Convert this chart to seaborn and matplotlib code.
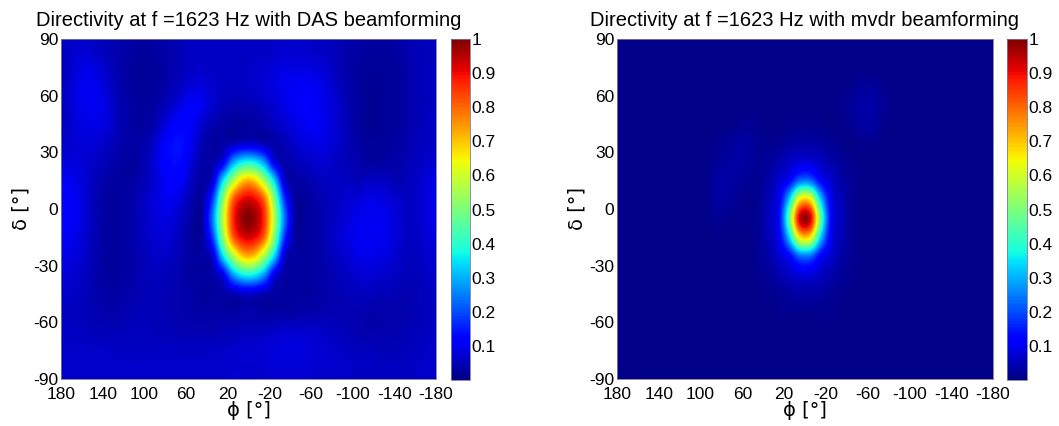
import numpy as np
import matplotlib
matplotlib.use("Agg")
import matplotlib.pyplot as plt
import seaborn as sns
from matplotlib.ticker import FuncFormatter

# ---------------- data (cell centres of the sampled directivity grid) ----------------
phi_centres = [175, 165, 155, 145, 135, 125, 115, 105, 95, 85, 75, 65, 55, 45, 35, 25, 15, 5,
               -5, -15, -25, -35, -45, -55, -65, -75, -85, -95, -105, -115, -125, -135, -145, -155, -165, -175]
delta_centres = [85, 75, 65, 55, 45, 35, 25, 15, 5, -5, -15, -25, -35, -45, -55, -65, -75, -85]

x_ticks = [180, 140, 100, 60, 20, -20, -60, -100, -140, -180]
y_ticks = [90, 60, 30, 0, -30, -60, -90]
cbar_ticks = [0.1, 0.2, 0.3, 0.4, 0.5, 0.6, 0.7, 0.8, 0.9, 1.0]

titles = ["Directivity at f =1623 Hz with DAS beamforming",
          "Directivity at f =1623 Hz with mvdr beamforming"]

# DAS beamforming, one row per delta centre (phi 175 ... -175)
das_d85 = [0.06, 0.07, 0.07, 0.06, 0.05, 0.04, 0.035, 0.03, 0.03, 0.035, 0.04, 0.05,
           0.06, 0.06, 0.06, 0.06, 0.06, 0.06, 0.06, 0.06, 0.065, 0.07, 0.07, 0.07,
           0.06, 0.06, 0.05, 0.04, 0.035, 0.03, 0.03, 0.03, 0.035, 0.045, 0.05, 0.055]
das_d75 = [0.06, 0.08, 0.09, 0.08, 0.06, 0.04, 0.03, 0.025, 0.025, 0.03, 0.04, 0.05,
           0.06, 0.065, 0.06, 0.06, 0.06, 0.06, 0.065, 0.07, 0.08, 0.085, 0.085, 0.085,
           0.08, 0.07, 0.05, 0.04, 0.03, 0.025, 0.025, 0.025, 0.03, 0.04, 0.05, 0.055]
das_d65 = [0.06, 0.09, 0.10, 0.095, 0.07, 0.045, 0.03, 0.025, 0.025, 0.03, 0.045, 0.06,
           0.08, 0.08, 0.07, 0.06, 0.06, 0.06, 0.065, 0.075, 0.085, 0.10, 0.105, 0.105,
           0.10, 0.085, 0.06, 0.04, 0.03, 0.02, 0.02, 0.025, 0.03, 0.04, 0.05, 0.055]
das_d55 = [0.06, 0.09, 0.10, 0.10, 0.08, 0.05, 0.035, 0.03, 0.03, 0.04, 0.06, 0.09,
           0.11, 0.10, 0.07, 0.05, 0.045, 0.045, 0.05, 0.06, 0.075, 0.09, 0.105, 0.11,
           0.105, 0.09, 0.07, 0.045, 0.03, 0.02, 0.02, 0.025, 0.03, 0.04, 0.05, 0.055]
das_d45 = [0.06, 0.08, 0.09, 0.09, 0.08, 0.05, 0.035, 0.03, 0.035, 0.06, 0.10, 0.12,
           0.11, 0.07, 0.045, 0.035, 0.03, 0.03, 0.035, 0.04, 0.06, 0.075, 0.09, 0.105,
           0.105, 0.09, 0.07, 0.05, 0.03, 0.02, 0.02, 0.025, 0.03, 0.04, 0.05, 0.06]
das_d35 = [0.065, 0.075, 0.08, 0.075, 0.06, 0.045, 0.035, 0.035, 0.05, 0.09, 0.13, 0.14,
           0.10, 0.05, 0.03, 0.035, 0.045, 0.065, 0.065, 0.045, 0.035, 0.05, 0.07, 0.085,
           0.09, 0.085, 0.07, 0.05, 0.035, 0.025, 0.025, 0.03, 0.035, 0.045, 0.055, 0.06]
das_d25 = [0.08, 0.08, 0.07, 0.06, 0.045, 0.035, 0.03, 0.035, 0.06, 0.10, 0.13, 0.13,
           0.08, 0.04, 0.04, 0.09, 0.27, 0.36, 0.36, 0.27, 0.09, 0.04, 0.05, 0.06,
           0.07, 0.07, 0.06, 0.05, 0.04, 0.03, 0.03, 0.035, 0.04, 0.05, 0.06, 0.07]
das_d15 = [0.10, 0.09, 0.07, 0.05, 0.035, 0.03, 0.03, 0.04, 0.06, 0.09, 0.12, 0.11,
           0.06, 0.035, 0.065, 0.33, 0.55, 0.70, 0.70, 0.55, 0.33, 0.065, 0.035, 0.04,
           0.05, 0.06, 0.06, 0.06, 0.05, 0.06, 0.06, 0.055, 0.045, 0.055, 0.07, 0.085]
das_d5 = [0.11, 0.10, 0.07, 0.045, 0.03, 0.03, 0.035, 0.05, 0.07, 0.09, 0.10, 0.08,
          0.045, 0.03, 0.17, 0.50, 0.80, 0.91, 0.91, 0.80, 0.50, 0.17, 0.03, 0.03,
          0.04, 0.05, 0.06, 0.07, 0.08, 0.09, 0.09, 0.08, 0.065, 0.06, 0.07, 0.09]
das_dm5 = [0.11, 0.10, 0.07, 0.045, 0.03, 0.03, 0.035, 0.05, 0.07, 0.085, 0.085, 0.06,
           0.035, 0.03, 0.23, 0.557, 0.86, 0.98, 0.98, 0.86, 0.557, 0.23, 0.03, 0.03,
           0.035, 0.05, 0.065, 0.08, 0.095, 0.10, 0.10, 0.09, 0.07, 0.06, 0.07, 0.09]
das_dm15 = [0.10, 0.09, 0.065, 0.04, 0.03, 0.03, 0.035, 0.05, 0.065, 0.075, 0.07, 0.05,
            0.03, 0.03, 0.17, 0.50, 0.80, 0.91, 0.91, 0.80, 0.50, 0.17, 0.03, 0.03,
            0.035, 0.05, 0.07, 0.085, 0.10, 0.105, 0.10, 0.09, 0.07, 0.06, 0.065, 0.08]
das_dm25 = [0.09, 0.08, 0.06, 0.04, 0.03, 0.03, 0.035, 0.045, 0.06, 0.065, 0.06, 0.045,
            0.03, 0.035, 0.065, 0.33, 0.55, 0.70, 0.70, 0.55, 0.33, 0.065, 0.035, 0.03,
            0.035, 0.045, 0.06, 0.075, 0.09, 0.095, 0.09, 0.08, 0.065, 0.055, 0.06, 0.07]
das_dm35 = [0.075, 0.07, 0.055, 0.04, 0.03, 0.03, 0.035, 0.045, 0.055, 0.055, 0.05, 0.04,
            0.03, 0.03, 0.035, 0.09, 0.27, 0.36, 0.36, 0.27, 0.09, 0.035, 0.03, 0.03,
            0.035, 0.04, 0.05, 0.06, 0.07, 0.075, 0.07, 0.065, 0.055, 0.05, 0.055, 0.065]
das_dm45 = [0.065, 0.06, 0.05, 0.04, 0.035, 0.035, 0.04, 0.045, 0.05, 0.05, 0.045, 0.04,
            0.035, 0.03, 0.03, 0.035, 0.045, 0.065, 0.065, 0.045, 0.035, 0.03, 0.03, 0.03,
            0.035, 0.04, 0.045, 0.05, 0.055, 0.055, 0.05, 0.05, 0.045, 0.045, 0.05, 0.06]
das_dm55 = [0.06, 0.055, 0.05, 0.045, 0.04, 0.04, 0.045, 0.05, 0.05, 0.05, 0.045, 0.04,
            0.035, 0.035, 0.035, 0.035, 0.035, 0.04, 0.04, 0.035, 0.035, 0.035, 0.035, 0.04,
            0.04, 0.045, 0.045, 0.045, 0.045, 0.04, 0.04, 0.04, 0.04, 0.045, 0.05, 0.055]
das_dm65 = [0.06, 0.06, 0.055, 0.05, 0.05, 0.05, 0.055, 0.055, 0.055, 0.05, 0.05, 0.045,
            0.045, 0.045, 0.045, 0.05, 0.05, 0.055, 0.055, 0.06, 0.065, 0.07, 0.07, 0.07,
            0.065, 0.06, 0.055, 0.05, 0.045, 0.04, 0.04, 0.045, 0.045, 0.05, 0.055, 0.06]
das_dm75 = [0.065, 0.065, 0.065, 0.065, 0.065, 0.06, 0.06, 0.06, 0.06, 0.06, 0.06, 0.06,
            0.06, 0.06, 0.06, 0.065, 0.065, 0.07, 0.07, 0.075, 0.08, 0.085, 0.085, 0.08,
            0.075, 0.07, 0.065, 0.06, 0.055, 0.055, 0.05, 0.05, 0.05, 0.055, 0.06, 0.065]
das_dm85 = [0.065, 0.065, 0.065, 0.065, 0.065, 0.065, 0.065, 0.065, 0.065, 0.065, 0.065, 0.065,
            0.065, 0.065, 0.065, 0.065, 0.07, 0.07, 0.07, 0.07, 0.075, 0.075, 0.075, 0.075,
            0.07, 0.07, 0.065, 0.065, 0.06, 0.06, 0.06, 0.06, 0.06, 0.06, 0.065, 0.065]

# MVDR beamforming: flat floor plus the region around the main lobe
mvdr_floor = 0.01
mvdr_patch_phi = [85, 75, 65, 55, 45, 35, 25, 15, 5, -5, -15, -25, -35, -45, -55, -65, -75, -85]
mvdr_patch_delta = [65, 55, 45, 35, 25, 15, 5, -5, -15, -25, -35, -45, -55]
mvdr_d65 = [0.01, 0.01, 0.01, 0.01, 0.01, 0.01, 0.01, 0.01, 0.01, 0.01, 0.01, 0.01, 0.01, 0.015, 0.025, 0.025, 0.015, 0.01]
mvdr_d55 = [0.01, 0.01, 0.01, 0.01, 0.01, 0.01, 0.01, 0.01, 0.01, 0.01, 0.01, 0.01, 0.015, 0.025, 0.035, 0.035, 0.02, 0.01]
mvdr_d45 = [0.01, 0.01, 0.015, 0.02, 0.015, 0.01, 0.01, 0.015, 0.015, 0.015, 0.015, 0.01, 0.01, 0.02, 0.03, 0.03, 0.015, 0.01]
mvdr_d35 = [0.015, 0.02, 0.03, 0.03, 0.02, 0.015, 0.02, 0.03, 0.035, 0.035, 0.03, 0.02, 0.015, 0.01, 0.015, 0.015, 0.01, 0.01]
mvdr_d25 = [0.02, 0.03, 0.035, 0.03, 0.02, 0.025, 0.04, 0.06, 0.08, 0.08, 0.06, 0.04, 0.025, 0.015, 0.01, 0.01, 0.01, 0.01]
mvdr_d15 = [0.03, 0.035, 0.03, 0.02, 0.02, 0.035, 0.07, 0.12, 0.23, 0.23, 0.12, 0.07, 0.035, 0.02, 0.01, 0.01, 0.01, 0.01]
mvdr_d5 = [0.03, 0.03, 0.02, 0.015, 0.02, 0.05, 0.10, 0.33, 0.66, 0.66, 0.33, 0.10, 0.05, 0.02, 0.01, 0.01, 0.01, 0.01]
mvdr_dm5 = [0.02, 0.015, 0.015, 0.015, 0.02, 0.055, 0.12, 0.47, 0.93, 0.93, 0.47, 0.12, 0.055, 0.02, 0.01, 0.01, 0.01, 0.01]
mvdr_dm15 = [0.01, 0.01, 0.01, 0.01, 0.02, 0.05, 0.10, 0.33, 0.66, 0.66, 0.33, 0.10, 0.05, 0.02, 0.01, 0.01, 0.01, 0.01]
mvdr_dm25 = [0.01, 0.01, 0.01, 0.01, 0.02, 0.035, 0.07, 0.12, 0.23, 0.23, 0.12, 0.07, 0.035, 0.02, 0.01, 0.01, 0.01, 0.01]
mvdr_dm35 = [0.01, 0.01, 0.01, 0.01, 0.015, 0.025, 0.04, 0.06, 0.08, 0.08, 0.06, 0.04, 0.025, 0.015, 0.01, 0.01, 0.01, 0.01]
mvdr_dm45 = [0.01, 0.01, 0.01, 0.01, 0.01, 0.015, 0.02, 0.03, 0.035, 0.035, 0.03, 0.02, 0.015, 0.01, 0.01, 0.01, 0.01, 0.01]
mvdr_dm55 = [0.01, 0.01, 0.01, 0.01, 0.01, 0.01, 0.015, 0.015, 0.015, 0.015, 0.015, 0.015, 0.01, 0.01, 0.01, 0.01, 0.01, 0.01]

# ---------------- assemble the grids ----------------
das = np.array([das_d85, das_d75, das_d65, das_d55, das_d45, das_d35, das_d25, das_d15, das_d5,
                das_dm5, das_dm15, das_dm25, das_dm35, das_dm45, das_dm55, das_dm65, das_dm75, das_dm85])
mvdr_patch = np.array([mvdr_d65, mvdr_d55, mvdr_d45, mvdr_d35, mvdr_d25, mvdr_d15, mvdr_d5,
                       mvdr_dm5, mvdr_dm15, mvdr_dm25, mvdr_dm35, mvdr_dm45, mvdr_dm55])
mvdr = np.full((len(delta_centres), len(phi_centres)), mvdr_floor)
r0 = delta_centres.index(mvdr_patch_delta[0])
c0 = phi_centres.index(mvdr_patch_phi[0])
mvdr[r0:r0 + mvdr_patch.shape[0], c0:c0 + mvdr_patch.shape[1]] = mvdr_patch

dphi = abs(phi_centres[1] - phi_centres[0])
ddel = abs(delta_centres[1] - delta_centres[0])
extent = [phi_centres[0] + dphi / 2, phi_centres[-1] - dphi / 2,
          delta_centres[-1] - ddel / 2, delta_centres[0] + ddel / 2]

# ---------------- style ----------------
sns.set_style("white")
plt.rcParams["font.family"] = ["Liberation Sans", "DejaVu Sans"]
plt.rcParams["axes.unicode_minus"] = False
plt.rcParams["text.color"] = "black"
plt.rcParams["axes.labelcolor"] = "black"
plt.rcParams["xtick.color"] = "black"
plt.rcParams["ytick.color"] = "black"

W, H = 1059, 426
fig = plt.figure(figsize=(W / 100, H / 100), dpi=100)

axes_px = [(61, 39, 375, 340), (617, 39, 376, 340)]
cbar_px = [(451, 39, 19, 341), (1007, 39, 20, 341)]
cmap = plt.get_cmap("jet")

for k, (grid, title) in enumerate(zip([das, mvdr], titles)):
    x, y, w, h = axes_px[k]
    ax = fig.add_axes([x / W, 1 - (y + h) / H, w / W, h / H])
    im = ax.imshow(grid, cmap=cmap, vmin=0, vmax=1, interpolation="catrom",
                   extent=extent, aspect="auto", origin="upper")
    ax.set_xlim(180, -180)
    ax.set_ylim(-90, 90)
    ax.set_xticks(x_ticks)
    ax.set_yticks(y_ticks)
    ax.tick_params(direction="in", length=3, labelsize=12.5, pad=2, color="#444444")
    ax.tick_params(axis="x", pad=6)
    for s in ax.spines.values():
        s.set_linewidth(0.6)
        s.set_color("#7a7a9a")
    ax.set_title(title, fontsize=14.5, pad=9)
    ax.set_xlabel("ϕ [°]", fontsize=14, labelpad=-1, family=["DejaVu Sans"])
    ax.set_ylabel("δ [°]", fontsize=14, labelpad=2, family=["DejaVu Sans"])

    cx, cy, cw, ch = cbar_px[k]
    cax = fig.add_axes([cx / W, 1 - (cy + ch) / H, cw / W, ch / H])
    cb = fig.colorbar(im, cax=cax, ticks=cbar_ticks)
    cb.ax.yaxis.set_major_formatter(FuncFormatter(lambda v, p: f"{v:g}"))
    cb.ax.tick_params(direction="in", length=3, labelsize=12.5, pad=1, color="#444444")
    cb.outline.set_linewidth(0.6)
    cb.outline.set_edgecolor("#7a7a9a")

fig.savefig("out.png", dpi=100, facecolor="white")
